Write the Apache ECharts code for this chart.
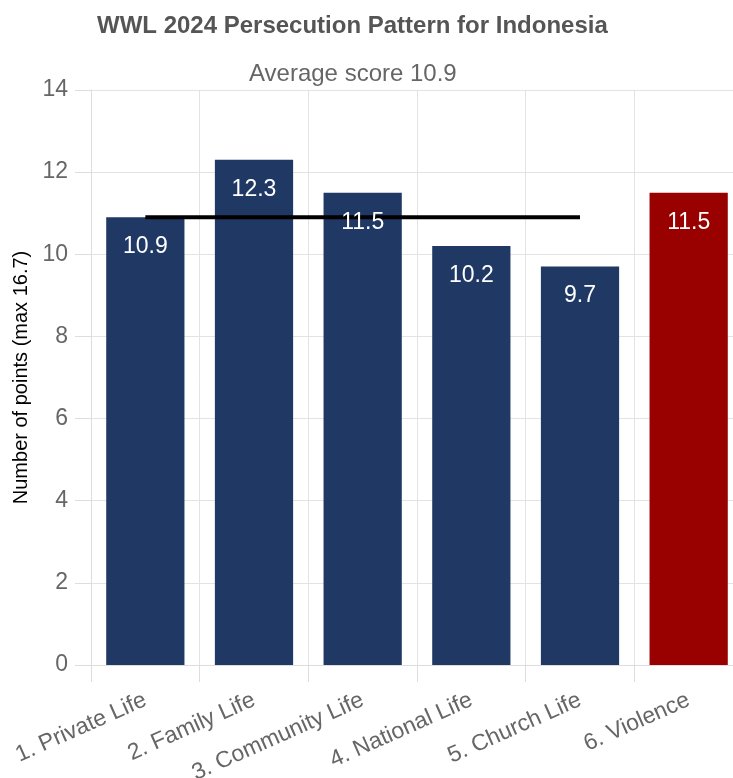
<!DOCTYPE html>
<html><head><meta charset="utf-8">
<script src="https://cdn.jsdelivr.net/npm/echarts@6/dist/echarts.min.js"></script>
<style>html,body{margin:0;padding:0;background:#fff;overflow:hidden;width:733px;height:778px}#c{width:743px;height:778px}</style>
</head><body><div id="c"></div>
<script>
const categories = ['1. Private Life','2. Family Life','3. Community Life','4. National Life','5. Church Life','6. Violence'];
const scores = [10.9, 12.3, 11.5, 10.2, 9.7, 11.5];
const barColors = ['#203864','#203864','#203864','#203864','#203864','#990000'];
const averageScore = 10.9;
const averageLine = [10.9, 10.9, 10.9, 10.9, 10.9, null];
const yTicks = {min: 0, max: 14, interval: 2};

const chart = echarts.init(document.getElementById('c'));
const font = '"Liberation Sans", Arial, sans-serif';
chart.setOption({
  animation: false,
  textStyle: {fontFamily: font},
  title: [
    {text: 'WWL 2024 Persecution Pattern for Indonesia', left: 92, top: 9,
     textStyle: {fontFamily: font, fontSize: 24, fontWeight: 'bold', color: '#555'}},
    {text: 'Average score ' + averageScore, left: 244, top: 57,
     textStyle: {fontFamily: font, fontSize: 24, fontWeight: 'normal', color: '#666'}}
  ],
  grid: {left: 91, right: 0, top: 90, bottom: 113, containLabel: false, outerBoundsMode: 'none'},
  xAxis: {
    type: 'category', data: categories, boundaryGap: true,
    axisLine: {show: true, lineStyle: {color: '#ddd', width: 1}},
    axisTick: {show: true, length: 17, alignWithLabel: false, lineStyle: {color: '#ddd'}},
    splitLine: {show: true, lineStyle: {color: '#e3e3e3', width: 1}},
    axisLabel: {rotate: 24, color: '#666', fontSize: 23, margin: 34, fontFamily: font, interval: 0}
  },
  yAxis: {
    type: 'value', min: yTicks.min, max: yTicks.max, interval: yTicks.interval,
    name: 'Number of points (max 16.7)', nameLocation: 'middle', nameGap: 57, nameRotate: 90,
    nameTextStyle: {color: '#000', fontSize: 20, fontFamily: font},
    axisLine: {show: true, lineStyle: {color: '#ddd'}},
    axisTick: {show: true, length: 16, lineStyle: {color: '#ddd'}},
    splitLine: {show: true, lineStyle: {color: '#e3e3e3'}},
    axisLabel: {color: '#666', fontSize: 23, margin: 23, fontFamily: font}
  },
  series: [
    {type: 'bar', z: 2, barWidth: '72%', barGap: '-100%',
     data: scores.map((v, i) => ({value: v, itemStyle: {color: barColors[i]}})),
     label: {show: false}},
    {type: 'line', z: 3, data: averageLine, symbol: 'none', silent: true,
     lineStyle: {color: '#000', width: 4}},
    {type: 'bar', z: 4, barWidth: '72%', barGap: '-100%', silent: true,
     data: scores, itemStyle: {color: 'rgba(0,0,0,0)'},
     label: {show: true, position: 'insideTop', distance: 18, color: '#fff', fontSize: 23, fontFamily: font}}
  ]
});
</script></body></html>
